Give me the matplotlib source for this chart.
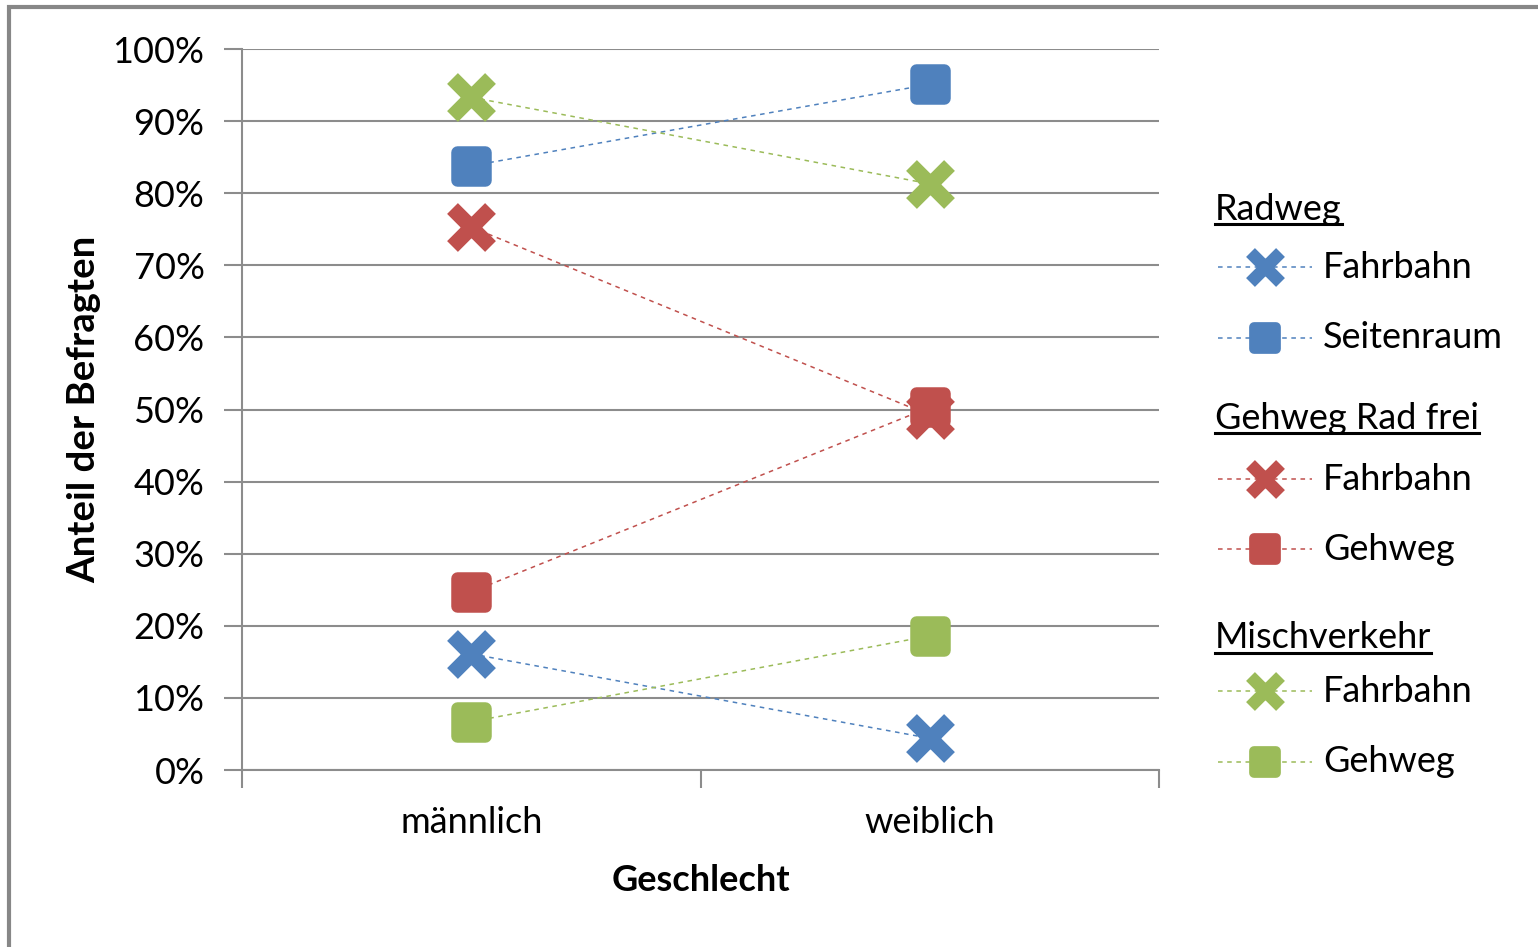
import matplotlib
matplotlib.use("Agg")
from matplotlib import pyplot as plt
from matplotlib.lines import Line2D
from matplotlib.markers import MarkerStyle
from matplotlib.patches import Rectangle
from matplotlib.ticker import PercentFormatter

plt.rcParams['font.family'] = ['Lato', 'DejaVu Sans']

kategorien = ["männlich", "weiblich"]
gruppen = ["Radweg", "Gehweg Rad frei", "Mischverkehr"]
farben = ["#4F81BD", "#C0504D", "#9BBB59"]

# Anteile in % (männlich, weiblich)
radweg_fahrbahn = [16.1, 4.4]
radweg_seitenraum = [83.8, 95.1]
gehweg_fahrbahn = [75.3, 49.2]
gehweg_gehweg = [24.7, 50.3]
misch_fahrbahn = [93.3, 81.3]
misch_gehweg = [6.7, 18.6]

serien = [
    (0, "Fahrbahn", radweg_fahrbahn, "x"),
    (0, "Seitenraum", radweg_seitenraum, "s"),
    (1, "Fahrbahn", gehweg_fahrbahn, "x"),
    (1, "Gehweg", gehweg_gehweg, "s"),
    (2, "Fahrbahn", misch_fahrbahn, "x"),
    (2, "Gehweg", misch_gehweg, "s"),
]

W, H = 1538, 947
fig = plt.figure(figsize=(W / 100, H / 100), dpi=100)
ax = fig.add_axes([242 / W, 1 - 770 / H, (1159 - 242) / W, (770 - 49) / H])

grau = "#8C8C8C"
xs = [0.5, 1.5]
fs = 26


def mk_x():
    return MarkerStyle("x", capstyle="butt")


def mk_s():
    return MarkerStyle("s", joinstyle="round")


for g, name, werte, m in serien:
    c = farben[g]
    ax.plot(xs, werte, color=c, ls=(0, (3, 3)), lw=1.1, zorder=3)
    if m == "x":
        ax.plot(xs, werte, ls="none", marker=mk_x(), ms=28, mec=c, mew=11, zorder=4)
    else:
        ax.plot(xs, werte, ls="none", marker=mk_s(), ms=20, color=c,
                mec=c, mew=9, zorder=4)

ax.set_xlim(0, 2)
ax.set_ylim(0, 100)
ax.set_yticks(range(0, 101, 10))
ax.yaxis.set_major_formatter(PercentFormatter(decimals=0))
ax.set_xticks([0, 1, 2])
ax.set_xticklabels([])
ax.set_xticks(xs, minor=True)
ax.set_xticklabels(kategorien, minor=True)
ax.tick_params(axis="x", which="minor", length=0, pad=26, labelsize=fs)
ax.tick_params(axis="x", which="major", length=13, color=grau, width=1.5)
ax.tick_params(axis="y", length=13, color=grau, width=1.5, labelsize=fs, pad=14)
ax.grid(axis="y", color=grau, lw=1.5)
ax.set_axisbelow(True)
for s in ["top", "right"]:
    ax.spines[s].set_visible(False)
for s in ["left", "bottom"]:
    ax.spines[s].set_color(grau)
    ax.spines[s].set_linewidth(1.5)

ax.set_ylabel("Anteil der Befragten", fontsize=27.5, fontweight="bold", labelpad=8)
ax.set_xlabel("Geschlecht", fontsize=26, fontweight="bold", labelpad=18)

# Rahmen links/oben
fig.add_artist(Rectangle((9 / W, -0.05), 1.2, 1.05 - 7 / H, transform=fig.transFigure,
                         fill=False, ec="#878787", lw=3))


def px(x, y):
    return x / W, 1 - y / H


# Legende
kopf_y = [210, 418, 638]
zeilen_y = [[267, 338], [479, 549], [691, 762]]
header_texte = []
for g, gname in enumerate(gruppen):
    t = fig.text(*px(1215, kopf_y[g]), gname, fontsize=fs, va="center", ha="left")
    header_texte.append(t)
    eintraege = [s for s in serien if s[0] == g]
    for (gg, name, werte, m), y in zip(eintraege, zeilen_y[g]):
        c = farben[g]
        x0, y0 = px(1218, y)
        x1, _ = px(1312, y)
        fig.add_artist(Line2D([x0, x1], [y0, y0], color=c, ls=(0, (3, 3)), lw=1.1,
                              transform=fig.transFigure))
        if m == "x":
            fig.add_artist(Line2D([px(1265, y)[0]], [y0], marker=mk_x(), ms=22,
                                  mec=c, mew=9, transform=fig.transFigure))
        else:
            fig.add_artist(Line2D([px(1265, y)[0]], [y0], marker=mk_s(), ms=16,
                                  color=c, mec=c, mew=7, transform=fig.transFigure))
        fig.text(*px(1323, y), name, fontsize=fs, va="center", ha="left")

fig.canvas.draw()
r = fig.canvas.get_renderer()
for t in header_texte:
    bb = t.get_window_extent(r)
    uy = bb.y0 + 2
    fig.add_artist(Line2D([bb.x0 / W, bb.x1 / W], [uy / H, uy / H], color="black", lw=2.2,
                          transform=fig.transFigure))

fig.savefig("out.png", dpi=100)
